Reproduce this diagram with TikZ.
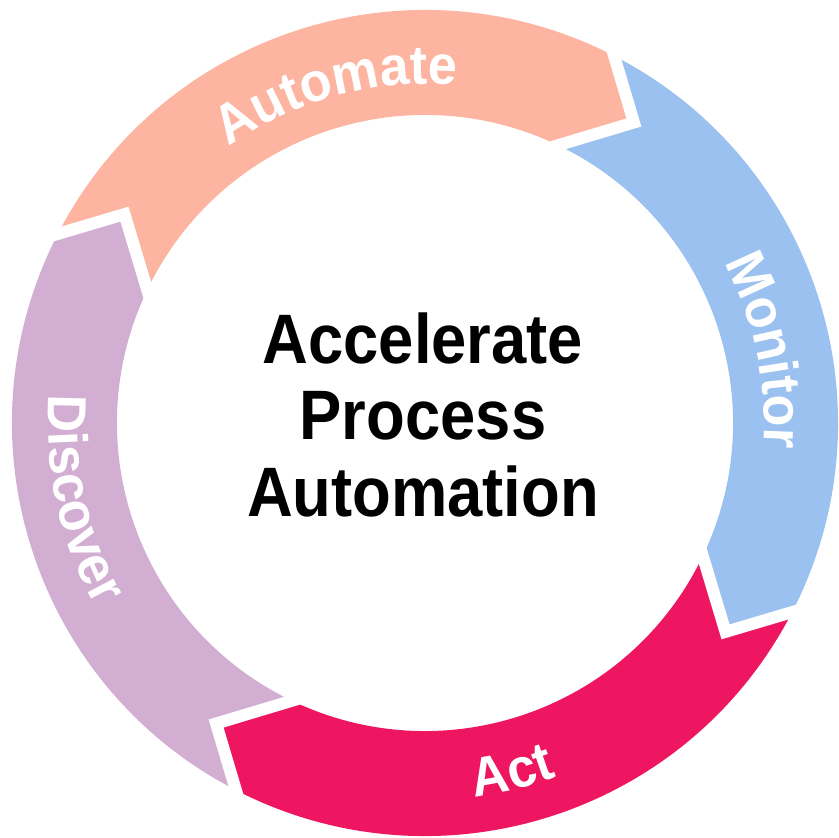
\documentclass[tikz,border=0pt]{standalone}
\usepackage{fontspec}
\setmainfont{Liberation Sans}
\newfontfamily\titlefam{Liberation Sans}[FakeStretch=0.905]
\newfontfamily\labfam{Liberation Sans}[FakeStretch=0.95]
\usetikzlibrary{decorations.text,calc}
\definecolor{cauto}{HTML}{FDB4A0}
\definecolor{cmon}{HTML}{9AC1F0}
\definecolor{cact}{HTML}{EE1660}
\definecolor{cdisc}{HTML}{D2AED2}
\newcommand{\labfont}{\labfam\fontsize{55}{55}\selectfont\bfseries}
\tikzset{
  gapline/.style={white, line width=12pt, line join=miter},
  seglabel/.style={decorate, decoration={text along path, text align=center, text color=white, text={|\labfont|#1}}},
  titlefont/.style={font=\titlefam\fontsize{70}{76.5}\selectfont\bfseries, align=center, inner sep=0pt}
}
\begin{document}
\begin{tikzpicture}[x=1pt,y=1pt]
\useasboundingbox (-425pt,-415pt) rectangle (413pt,423pt);
% ring segments
\foreach \s/\c in {150/cauto,60/cmon,-30/cact,-120/cdisc}{
  \fill[\c] (\s+2.75:413pt) arc[start angle=\s+2.75, end angle=\s-87.25, radius=413pt]
    -- (\s-94.8:366pt) -- (\s-85.6:308pt)
    arc[start angle=\s-85.6, end angle=\s+4.4, radius=308pt]
    -- (\s-4.8:366pt) -- cycle;
}
% white gaps
\foreach \j in {150,60,-30,-120}{
  \draw[gapline] ($(\j-4.8:366pt)!1.8!(\j+2.75:413pt)$) -- (\j-4.8:366pt) -- ($(\j-4.8:366pt)!1.8!(\j+4.4:308pt)$);
}
% labels
\path[seglabel=Automate] (150:339pt) arc[start angle=150, end angle=60, radius=339pt];
\path[seglabel=Monitor] (57:339pt) arc[start angle=57, end angle=-33, radius=339pt];
\path[seglabel=Act] (-121:377pt) arc[start angle=-121, end angle=-31, radius=377pt];
\path[seglabel=Discover] (147.5:377pt) arc[start angle=147.5, end angle=237.5, radius=377pt];
% centre title
\node[titlefont] (title) at (-2pt,8.5pt) {Accelerate\\Process\\Automation};
\end{tikzpicture}
\end{document}
